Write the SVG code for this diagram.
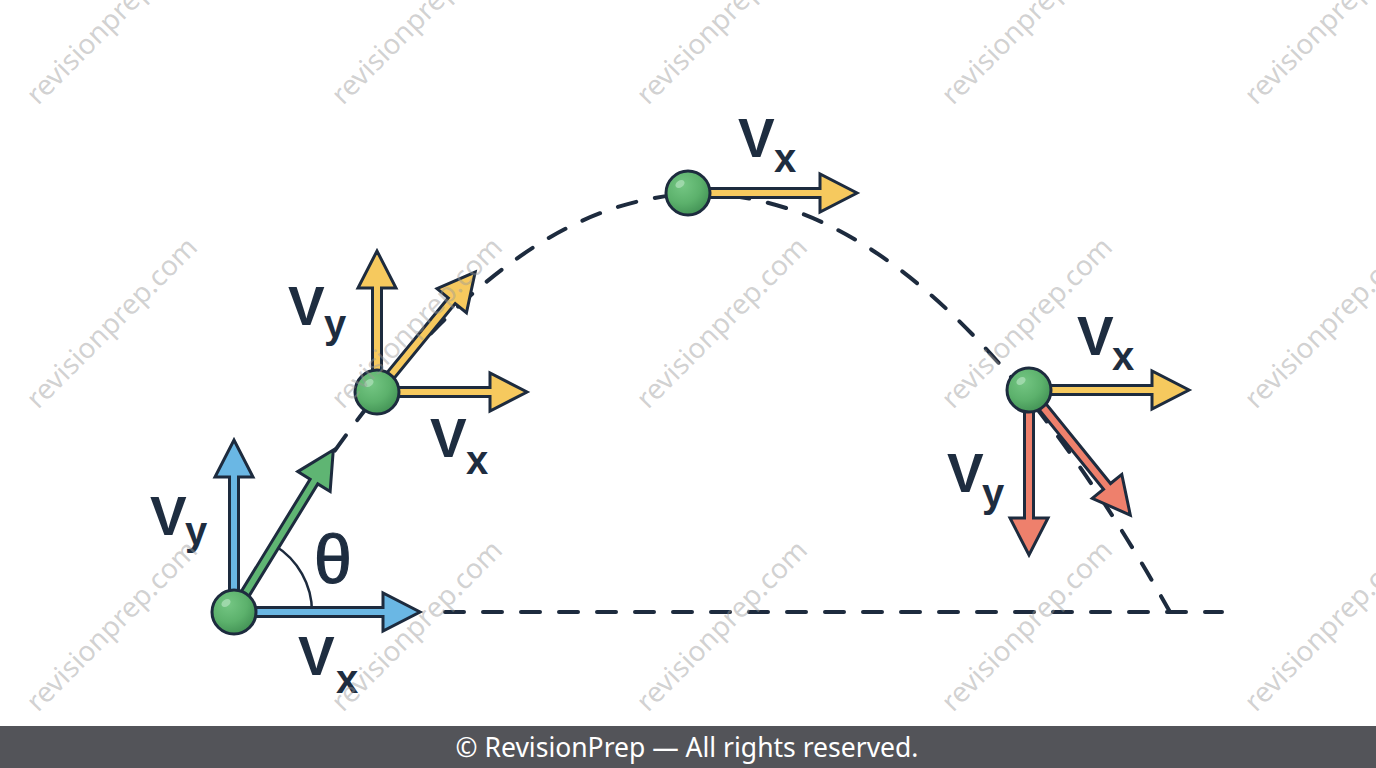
<svg xmlns="http://www.w3.org/2000/svg" width="1376" height="768" viewBox="0 0 1376 768">
<style>
.ar{stroke:#1d2b3e;stroke-width:3;stroke-linejoin:miter;stroke-miterlimit:6}
.blue{fill:#6ab7e4}.green{fill:#5fb573}.yellow{fill:#f6c95e}.red{fill:#ee806c}
.traj{fill:none;stroke:#1d2b3e;stroke-width:4;stroke-dasharray:19 19;stroke-linecap:round}
.big{font-family:"Liberation Sans",Arial,sans-serif;font-weight:bold;font-size:55px;fill:#1e2d40}
.sub{font-family:"Liberation Sans",Arial,sans-serif;font-weight:bold;font-size:40px;fill:#1e2d40}
.theta{font-family:"Liberation Sans",Arial,sans-serif;font-size:68px;fill:#1e2d40;stroke:#1e2d40;stroke-width:1.2}
.wm{font-family:"Noto Sans","Open Sans",sans-serif;font-size:28px;fill:#9a9a9a;fill-opacity:0.45}
.foot{font-family:"Noto Sans","Open Sans",sans-serif;font-size:26.5px;fill:#ffffff}
</style>
<defs>
<radialGradient id="bg" cx="0.38" cy="0.32" r="0.75">
<stop offset="0" stop-color="#74c683"/>
<stop offset="0.55" stop-color="#5cb16c"/>
<stop offset="1" stop-color="#3f8e52"/>
</radialGradient>
<g id="ball">
<circle r="22" fill="url(#bg)" stroke="#1d2b3e" stroke-width="3"/>
<ellipse cx="-8" cy="-9" rx="5" ry="3.5" transform="rotate(-35 -8 -9)" fill="#a6dcb1" opacity="0.85"/>
</g>
</defs>
<rect width="1376" height="768" fill="#ffffff"/>

<g id="connectors">
<path class="traj" d="M234,612 Q467,194 700,194 Q935,194 1170,612"/>
<path class="traj" d="M445,612 H1222"/>
<path d="M312,612 A78,78 0 0 0 274.7,545.5" fill="none" stroke="#1d2b3e" stroke-width="2.5"/>
</g>

<g id="launch">
<path class="ar blue" transform="translate(234,612)" d="M0,-4.5H149V-19L186,0L149,19V4.5H0Z"/>
<path class="ar blue" transform="translate(234,612) rotate(-90)" d="M0,-4.5H135V-19L172,0L135,19V4.5H0Z"/>
<path class="ar green" transform="translate(234,612) rotate(-58.5)" d="M0,-4.5H153V-19L190,0L153,19V4.5H0Z"/>
<use href="#ball" x="234" y="612"/>
<text class="big" x="150" y="535">V</text><text class="sub" x="185" y="545">y</text>
<text class="big" x="298" y="675">V</text><text class="sub" x="336" y="693">x</text>
<text class="theta" x="314" y="583">θ</text>
</g>

<g id="rising">
<path class="ar yellow" transform="translate(377,392) rotate(-90)" d="M0,-4.5H104V-19L141,0L104,19V4.5H0Z"/>
<path class="ar yellow" transform="translate(377,392)" d="M0,-4.5H113V-19L150,0L113,19V4.5H0Z"/>
<path class="ar yellow" transform="translate(377,392) rotate(-50.7)" d="M0,-4.5H118V-19L155,0L118,19V4.5H0Z"/>
<use href="#ball" x="377" y="392"/>
<text class="big" x="288" y="325">V</text><text class="sub" x="324" y="338">y</text>
<text class="big" x="430" y="457">V</text><text class="sub" x="466" y="474">x</text>
</g>

<g id="apex">
<path class="ar yellow" transform="translate(688,193)" d="M0,-4.5H132V-19L169,0L132,19V4.5H0Z"/>
<use href="#ball" x="688" y="193"/>
<text class="big" x="738" y="157">V</text><text class="sub" x="774" y="172">x</text>
</g>

<g id="falling">
<path class="ar yellow" transform="translate(1029,390)" d="M0,-4.5H123V-19L160,0L123,19V4.5H0Z"/>
<path class="ar red" transform="translate(1029,390) rotate(90)" d="M0,-4.5H128V-19L165,0L128,19V4.5H0Z"/>
<path class="ar red" transform="translate(1029,390) rotate(51)" d="M0,-4.5H124V-19L161,0L124,19V4.5H0Z"/>
<use href="#ball" x="1029" y="390"/>
<text class="big" x="1077" y="355">V</text><text class="sub" x="1112" y="370">x</text>
<text class="big" x="947" y="492">V</text><text class="sub" x="982" y="507">y</text>
</g>

<g id="watermarks">
<text class="wm" transform="translate(38,106) rotate(-45)">revisionprep.com</text>
<text class="wm" transform="translate(343,106) rotate(-45)">revisionprep.com</text>
<text class="wm" transform="translate(648,106) rotate(-45)">revisionprep.com</text>
<text class="wm" transform="translate(953,106) rotate(-45)">revisionprep.com</text>
<text class="wm" transform="translate(1256,106) rotate(-45)">revisionprep.com</text>
<text class="wm" transform="translate(38,410) rotate(-45)">revisionprep.com</text>
<text class="wm" transform="translate(343,410) rotate(-45)">revisionprep.com</text>
<text class="wm" transform="translate(648,410) rotate(-45)">revisionprep.com</text>
<text class="wm" transform="translate(953,410) rotate(-45)">revisionprep.com</text>
<text class="wm" transform="translate(1256,410) rotate(-45)">revisionprep.com</text>
<text class="wm" transform="translate(38,713) rotate(-45)">revisionprep.com</text>
<text class="wm" transform="translate(343,713) rotate(-45)">revisionprep.com</text>
<text class="wm" transform="translate(648,713) rotate(-45)">revisionprep.com</text>
<text class="wm" transform="translate(953,713) rotate(-45)">revisionprep.com</text>
<text class="wm" transform="translate(1256,713) rotate(-45)">revisionprep.com</text>
</g>

<g id="footer">
<rect x="0" y="726" width="1376" height="42" fill="#535459"/>
<text class="foot" x="687" y="757" text-anchor="middle">© RevisionPrep — All rights reserved.</text>
</g>
</svg>
